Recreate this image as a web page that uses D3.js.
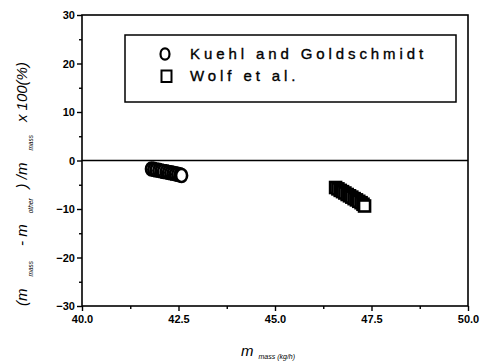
<!DOCTYPE html>
<html>
<head>
<meta charset="utf-8">
<script src="https://cdn.jsdelivr.net/npm/d3@7/dist/d3.min.js"></script>
<style>
  body { margin: 0; background: #fff; }
  svg { display: block; }
  .tick text { font-family: Arial, "Liberation Sans", sans-serif; font-size: 11px; font-weight: bold; }
</style>
</head>
<body>
<div id="chart"></div>
<script>
// series
const kuehlX = [41.80, 41.86, 41.92, 41.99, 42.05, 42.11, 42.18, 42.24, 42.30, 42.36, 42.42, 42.48, 42.54, 42.58];
const kuehlY = [-1.75, -1.84, -1.96, -2.04, -2.15, -2.26, -2.34, -2.46, -2.55, -2.64, -2.76, -2.86, -2.97, -3.09];
const wolfX = [46.57, 46.63, 46.69, 46.75, 46.81, 46.87, 46.93, 46.99, 47.05, 47.11, 47.17, 47.23, 47.28, 47.32];
const wolfY = [-5.57, -5.85, -6.16, -6.42, -6.70, -7.01, -7.28, -7.55, -7.86, -8.12, -8.41, -8.70, -9.02, -9.38];

const xTicks = [40, 42.5, 45, 47.5, 50];
const xMinor = [41.25, 43.75, 46.25, 48.75];
const yTicks = [-30, -20, -10, 0, 10, 20, 30];
const yMinor = [-25, -15, -5, 5, 15, 25];
const legendLabels = ["Kuehl and Goldschmidt", "Wolf et al."];

const width = 486, height = 363;
const margin = {left: 82, right: 18, top: 15, bottom: 57};
const font = "Arial, 'Liberation Sans', sans-serif";

const svg = d3.select("#chart").append("svg")
    .attr("width", width).attr("height", height);

const x = d3.scaleLinear().domain([40, 50]).range([margin.left, width - margin.right]);
const y = d3.scaleLinear().domain([-30, 30]).range([height - margin.bottom, margin.top]);

// axes
svg.append("g")
    .attr("transform", `translate(0,${y(-30)})`)
    .call(d3.axisBottom(x).tickValues(xTicks).tickFormat(d3.format(".1f")).tickSize(5).tickPadding(4))
    .call(g => g.select(".domain").remove());
svg.append("g")
    .attr("transform", `translate(0,${y(-30)})`)
    .call(d3.axisBottom(x).tickValues(xMinor).tickFormat("").tickSize(3))
    .call(g => g.select(".domain").remove());

svg.append("g")
    .attr("transform", `translate(${x(40)},0)`)
    .call(d3.axisLeft(y).tickValues(yTicks).tickSize(5).tickPadding(2))
    .call(g => g.select(".domain").remove());
svg.append("g")
    .attr("transform", `translate(${x(40)},0)`)
    .call(d3.axisLeft(y).tickValues(yMinor).tickFormat("").tickSize(3))
    .call(g => g.select(".domain").remove());

svg.selectAll(".tick line").attr("stroke", "#000").attr("stroke-width", 1.4);

// frame
svg.append("rect")
    .attr("x", x(40)).attr("y", y(30))
    .attr("width", x(50) - x(40)).attr("height", y(-30) - y(30))
    .attr("fill", "none").attr("stroke", "#000").attr("stroke-width", 1.6);

// zero line
svg.append("line")
    .attr("x1", x(40)).attr("x2", x(50))
    .attr("y1", y(0)).attr("y2", y(0))
    .attr("stroke", "#000").attr("stroke-width", 1.3);

// data
svg.selectAll(".kuehl").data(kuehlX).enter().append("ellipse")
    .attr("class", "kuehl")
    .attr("cx", d => x(d))
    .attr("cy", (d, i) => y(kuehlY[i]))
    .attr("rx", 5.5).attr("ry", 6.5)
    .attr("fill", "#fff").attr("stroke", "#000").attr("stroke-width", 2.6);

const sq = 11;
svg.selectAll(".wolf").data(wolfX).enter().append("rect")
    .attr("class", "wolf")
    .attr("x", d => x(d) - sq / 2)
    .attr("y", (d, i) => y(wolfY[i]) - sq / 2)
    .attr("width", sq).attr("height", sq)
    .attr("fill", "#fff").attr("stroke", "#000").attr("stroke-width", 2.6);

// legend
const legend = svg.append("g");
legend.append("rect")
    .attr("x", 125).attr("y", 35).attr("width", 331).attr("height", 67)
    .attr("fill", "#fff").attr("stroke", "#000").attr("stroke-width", 1.5);
legend.append("ellipse")
    .attr("cx", 165).attr("cy", 54).attr("rx", 4.5).attr("ry", 5.6)
    .attr("fill", "#fff").attr("stroke", "#000").attr("stroke-width", 2.2);
legend.append("rect")
    .attr("x", 161.5).attr("y", 70.5).attr("width", 10).attr("height", 11.5)
    .attr("fill", "#fff").attr("stroke", "#000").attr("stroke-width", 2);
legend.selectAll(".lt").data(legendLabels).enter().append("text")
    .attr("class", "lt")
    .attr("x", 190)
    .attr("y", (d, i) => 59 + i * 22)
    .attr("font-family", font)
    .attr("font-size", 15)
    .attr("stroke", "#000").attr("stroke-width", 0.35)
    .attr("letter-spacing", 3.9)
    .text(d => d);

// axis titles
const xt = svg.append("text")
    .attr("x", 241).attr("y", 356)
    .attr("font-family", font).attr("font-style", "italic");
xt.append("tspan").attr("font-size", 15).text("m");
xt.append("tspan").attr("font-size", 7).attr("dx", 5).attr("dy", 3).text("mass (kg/h)");

const yt = svg.append("text")
    .attr("transform", "translate(27,184) rotate(-90)")
    .attr("text-anchor", "middle")
    .attr("font-family", font).attr("font-style", "italic").attr("font-size", 15);
yt.append("tspan").text("(m");
yt.append("tspan").attr("font-size", 6.5).attr("dx", 12).attr("dy", 6).text("mass");
yt.append("tspan").attr("dx", 15).attr("dy", -6).text("- m");
yt.append("tspan").attr("font-size", 6.5).attr("dx", 11).attr("dy", 6).text("other");
yt.append("tspan").attr("dx", 10).attr("dy", -6).text(") /m");
yt.append("tspan").attr("font-size", 6.5).attr("dx", 12).attr("dy", 6).text("mass");
yt.append("tspan").attr("dx", 13).attr("dy", -6).text("x 100(%)");
</script>
</body>
</html>
